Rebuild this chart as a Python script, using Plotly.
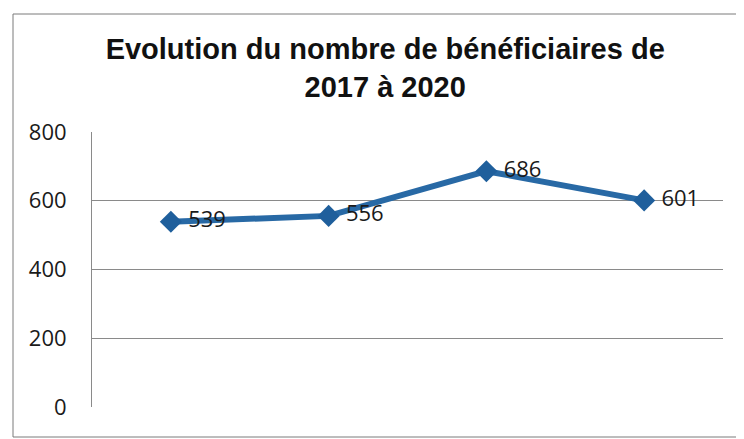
import plotly.graph_objects as go

years = ["2017", "2018", "2019", "2020"]
beneficiaires = [539, 556, 686, 601]
y_ticks = [0, 200, 400, 600, 800]
title_text = "<b>Evolution du nombre de bénéficiaires de<br>2017 à 2020</b>"

fig = go.Figure()
fig.add_trace(go.Scatter(
    x=years, y=beneficiaires,
    mode="lines+markers+text",
    line=dict(color="#2869a5", width=6),
    marker=dict(symbol="diamond", size=17, color="#1f5f9c"),
    text=[" " + str(v) for v in beneficiaires],
    textposition="middle right",
    textfont=dict(family="Open Sans, Noto Sans, sans-serif", size=22, color="#1a1a1a"),
    cliponaxis=False,
    showlegend=False,
))

fig.update_layout(
    width=744, height=439,
    paper_bgcolor="white", plot_bgcolor="white",
    margin=dict(l=84, r=29, t=124, b=40),
    title=dict(
        text=title_text,
        x=0.507, xanchor="center", y=0.884, yanchor="middle",
        font=dict(family="Liberation Sans, Arial, sans-serif", size=29, color="#111111"),
    ),
    xaxis=dict(
        type="category", range=[-0.5, 3.5],
        showticklabels=False, showgrid=False, zeroline=False,
        showline=False, ticks="",
    ),
    yaxis=dict(
        range=[0, 800], tickvals=y_ticks,
        showgrid=True, gridcolor="#8a8a8a", gridwidth=1,
        showline=True, linecolor="#8a8a8a", linewidth=1,
        zeroline=False,
        ticks="", ticklabelstandoff=20,
        tickfont=dict(family="Open Sans, Noto Sans, sans-serif", size=22, color="#1a1a1a"),
    ),
    shapes=[dict(
        type="rect", xref="paper", yref="paper",
        x0=-79/631, x1=650/631, y0=-30/275, y1=1 + 118/275,
        line=dict(color="#7a7a7a", width=1),
    )],
)

fig.write_html("out.html")
